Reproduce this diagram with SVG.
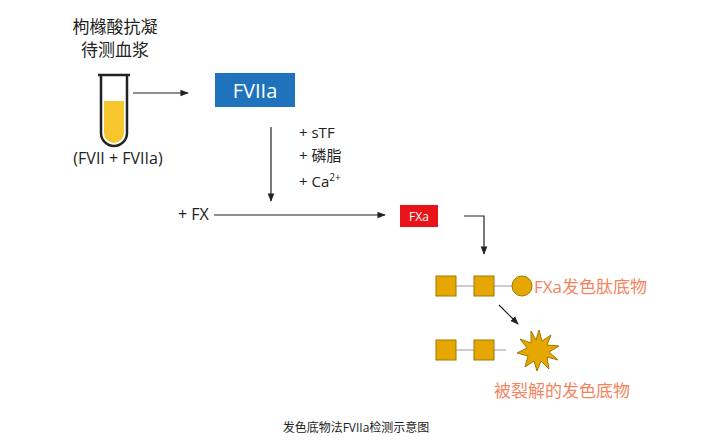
<svg xmlns="http://www.w3.org/2000/svg" width="712" height="448" viewBox="0 0 712 448">
<defs>
<style>
text{font-family:"Open Sans","Noto Sans CJK SC",sans-serif;fill:#222}
.sq{fill:#e6a800;stroke:#a07800;stroke-width:1}
.ln{stroke:#222;stroke-width:1.2;fill:none}
</style>
<marker id="ah" viewBox="0 0 10 10" refX="9" refY="5" markerWidth="7" markerHeight="7" orient="auto"><path d="M0,1 L10,5 L0,9 Z" fill="#222"/></marker>
</defs>
<rect width="712" height="448" fill="#fff"/>
<g id="plasma">
<text x="115" y="33" font-size="17" text-anchor="middle">枸橼酸抗凝</text>
<text x="115" y="56" font-size="17" text-anchor="middle">待测血浆</text>
<path d="M98,75 h32 M101,75 v58 a13,13 0 0 0 26,0 v-58" fill="#fff" stroke="#222" stroke-width="2.5"/>
<path d="M104,101 h20 v32 a10,10 0 0 1 -20,0 Z" fill="#f7c52c"/>
<text x="118" y="164" font-size="16" text-anchor="middle">(FVII + FVIIa)</text>
</g>
<g id="fviia">
<rect x="215" y="73" width="80" height="34" fill="#1f73bd"/>
<text x="255" y="98" font-size="20" text-anchor="middle" style="fill:#fff">FVIIa</text>
</g>
<g id="reagents">
<text x="299" y="138" font-size="15">+ sTF</text>
<text x="299" y="161" font-size="15">+ 磷脂</text>
<text x="299" y="187" font-size="15">+ Ca<tspan font-size="10" dy="-6">2+</tspan></text>
<text x="178" y="220" font-size="16">+ FX</text>
</g>
<g id="fxa">
<rect x="400" y="205" width="38" height="22" fill="#e8141a"/>
<text x="419" y="221" font-size="12" text-anchor="middle" style="fill:#fff">FXa</text>
</g>
<g id="substrate">
<line x1="444" y1="286" x2="522" y2="286" stroke="#999"/>
<rect class="sq" x="436" y="276" width="20" height="20"/>
<rect class="sq" x="474" y="276" width="20" height="20"/>
<circle class="sq" cx="522" cy="286" r="10"/>
<text x="534" y="293" font-size="17" style="fill:#f4845f">FXa发色肽底物</text>
</g>
<g id="product">
<line x1="444" y1="350" x2="506" y2="350" stroke="#999"/>
<rect class="sq" x="436" y="340" width="20" height="20"/>
<rect class="sq" x="474" y="340" width="20" height="20"/>
<polygon class="sq" points="539,330 542,341 551,335 547,345 559,346 549,352 558,360 547,357 549,369 541,361 537,371 534,361 525,367 528,356 517,353 527,348 520,339 531,343 531,331 536,340"/>
<text x="494" y="397" font-size="17" style="fill:#f4845f">被裂解的发色底物</text>
</g>
<g id="connectors">
<line class="ln" x1="133" y1="93" x2="188" y2="93" marker-end="url(#ah)"/>
<line class="ln" x1="271" y1="127" x2="271" y2="201" marker-end="url(#ah)"/>
<line class="ln" x1="214" y1="215" x2="385" y2="215" marker-end="url(#ah)"/>
<polyline class="ln" points="464,216 484,216 484,254" marker-end="url(#ah)"/>
<line class="ln" x1="499" y1="305" x2="518" y2="324" marker-end="url(#ah)"/>
</g>
<text x="356" y="432" font-size="12" text-anchor="middle">发色底物法FVIIa检测示意图</text>
</svg>
